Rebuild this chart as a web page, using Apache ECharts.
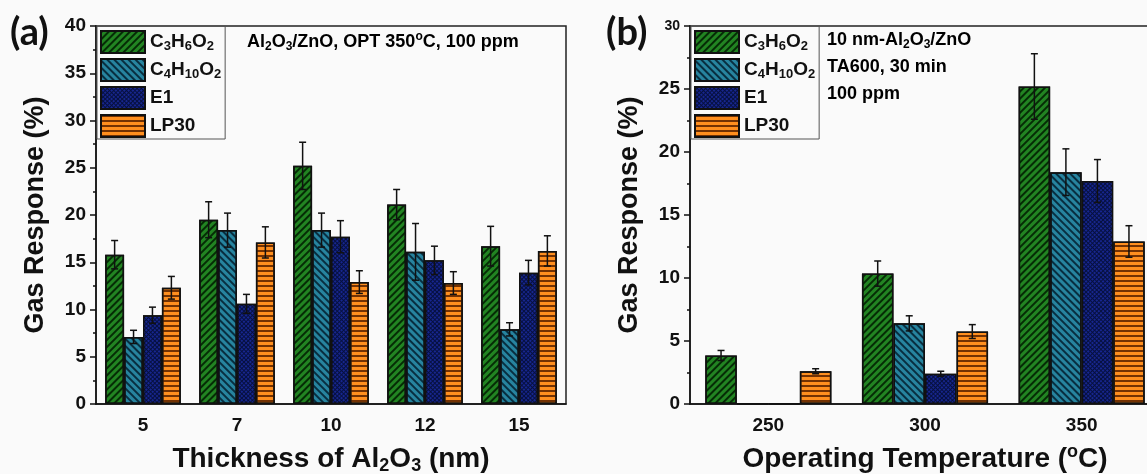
<!DOCTYPE html>
<html>
<head>
<meta charset="utf-8">
<title>Gas response</title>
<script src="https://cdn.jsdelivr.net/npm/echarts@6/dist/echarts.min.js"></script>
<style>
  html, body { margin: 0; padding: 0; background: #fafafa; }
  #chart { width: 1147px; height: 474px; }
</style>
</head>
<body>
<div id="chart"></div>
<script>
// gases, same order in both panels
const gases = ['C3H6O2', 'C4H10O2', 'E1', 'LP30'];

// panel (a): thickness of Al2O3 (nm)
const thickness = ['5', '7', '10', '12', '15'];
const thkC3H6O2 = [15.8, 19.5, 25.2, 21.1, 16.7];
const thkC4H10O2 = [7.1, 18.4, 18.4, 16.1, 7.9];
const thkE1 = [9.4, 10.6, 17.7, 15.2, 13.9];
const thkLP30 = [12.3, 17.1, 12.9, 12.8, 16.2];
const thkC3H6O2Err = [1.5, 1.9, 2.5, 1.6, 2.1];
const thkC4H10O2Err = [0.7, 1.8, 1.8, 3.0, 0.7];
const thkE1Err = [0.85, 1.0, 1.7, 1.5, 1.3];
const thkLP30Err = [1.2, 1.65, 1.2, 1.2, 1.6];

// panel (b): operating temperature (oC)
const temps = ['250', '300', '350'];
const tmpC3H6O2 = [3.85, 10.35, 25.2];
const tmpC4H10O2 = [0.05, 6.4, 18.4];
const tmpE1 = [0.05, 2.4, 17.7];
const tmpLP30 = [2.6, 5.75, 12.9];
const tmpC3H6O2Err = [0.4, 1.0, 2.6];
const tmpC4H10O2Err = [0, 0.6, 1.85];
const tmpE1Err = [0, 0.2, 1.7];
const tmpLP30Err = [0.2, 0.55, 1.25];

// y axis ticks
const yTicksA = [0, 5, 10, 15, 20, 25, 30, 35, 40];
const yTicksB = [0, 5, 10, 15, 20, 25, 30];

const chart = echarts.init(document.getElementById('chart'));

const FONT = '"Liberation Sans", Arial, sans-serif';
const GAP = 0.195;

const colors = ['#228422', '#27849f', '#06103f', '#ff8f1f'];
const decals = [
  {symbol: 'rect', symbolSize: 1, dashArrayX: [1, 0], dashArrayY: [1.5, 2.5], rotation: -Math.PI / 4, color: 'rgba(0,28,0,0.85)'},
  {symbol: 'rect', symbolSize: 1, dashArrayX: [1, 0], dashArrayY: [1.5, 2.5], rotation: Math.PI / 4, color: 'rgba(0,25,40,0.8)'},
  {symbol: 'rect', symbolSize: 1, dashArrayX: [2, 1], dashArrayY: [2, 1], rotation: Math.PI / 4, color: '#17268f'},
  {symbol: 'rect', symbolSize: 1, dashArrayX: [1, 0], dashArrayY: [1.8, 2.6], rotation: 0, color: 'rgba(100,40,0,0.9)'}
];

// chemical formula -> rich text with subscripts
function formula(name) {
  if (name === 'E1' || name === 'LP30') return '{t|' + name + '}';
  return name.replace(/([A-Za-z]+)(\d*)/g, (m, a, d) => '{t|' + a + '}' + (d ? '{s|' + d + '}' : ''));
}

function rich(size, sub, lh) {
  return {
    t: {fontSize: size, fontWeight: 'bold', fontFamily: FONT, color: '#111', lineHeight: lh || size + 4},
    s: {fontSize: sub, fontWeight: 'bold', fontFamily: FONT, color: '#111', lineHeight: sub, verticalAlign: 'bottom'},
    p: {fontSize: sub, fontWeight: 'bold', fontFamily: FONT, color: '#111', lineHeight: sub, verticalAlign: 'top'},
    sm: {fontSize: 14, fontWeight: 'bold', fontFamily: FONT, color: '#111'}
  };
}

const axisColor = '#111';
const lineSt = {color: axisColor, width: 1.5};

function xAxes(grid, cats, nameRich) {
  return [{
    gridIndex: grid, type: 'category', data: cats, position: 'bottom',
    axisLine: {lineStyle: lineSt},
    axisTick: {alignWithLabel: true, length: 6, lineStyle: lineSt},
    axisLabel: {fontSize: 19, fontWeight: 'bold', fontFamily: FONT, color: axisColor, margin: 12},
    name: nameRich, nameLocation: 'middle', nameGap: 39,
    nameTextStyle: {rich: rich(28, 18)}
  }, {
    gridIndex: grid, type: 'category', data: cats, position: 'bottom',
    axisLine: {show: false},
    axisTick: {length: 3, lineStyle: lineSt},
    axisLabel: {show: false}
  }];
}

function yAxis(grid, ticks) {
  return {
    gridIndex: grid, type: 'value', min: ticks[0], max: ticks[ticks.length - 1], interval: ticks[1] - ticks[0],
    axisLine: {show: true, lineStyle: lineSt},
    axisTick: {show: true, length: 6, lineStyle: lineSt},
    minorTick: {show: true, splitNumber: 2, length: 3, lineStyle: lineSt},
    splitLine: {show: false},
    axisLabel: {
      fontSize: 19, fontWeight: 'bold', fontFamily: FONT, color: axisColor, margin: 10,
      formatter: v => (grid === 1 && v === 30) ? '{sm|30}' : String(v),
      rich: rich(19, 12)
    },
    name: 'Gas Response (%)', nameLocation: 'middle', nameGap: 47,
    nameTextStyle: {fontSize: 27, fontWeight: 'bold', fontFamily: FONT, color: axisColor}
  };
}

function errRender(params, api) {
  const cat = api.value(0), v = api.value(1), e = api.value(2), k = api.value(3);
  if (!e) return;
  const band = api.size([1, 0])[0];
  const groupW = band * (1 - GAP);
  const bw = groupW / gases.length;
  const x = api.coord([cat, v])[0] - groupW / 2 + bw * (k + 0.5);
  const yTop = api.coord([cat, v + e])[1];
  const yBot = api.coord([cat, v - e])[1];
  const cap = 3.5;
  const style = {stroke: '#111', lineWidth: 1.5};
  return {type: 'group', children: [
    {type: 'line', shape: {x1: x, y1: yTop, x2: x, y2: yBot}, style: style},
    {type: 'line', shape: {x1: x - cap, y1: yTop, x2: x + cap, y2: yTop}, style: style},
    {type: 'line', shape: {x1: x - cap, y1: yBot, x2: x + cap, y2: yBot}, style: style}
  ]};
}

function panelSeries(xIdx, yIdx, values, errors) {
  const out = [];
  const errData = [];
  gases.forEach((g, k) => {
    out.push({
      type: 'bar', name: g, xAxisIndex: xIdx, yAxisIndex: yIdx,
      data: values[k], barGap: '0%', barCategoryGap: (GAP * 100) + '%',
      itemStyle: {color: colors[k], borderColor: '#111', borderWidth: 1.5, decal: decals[k]},
      emphasis: {disabled: true}
    });
    values[k].forEach((v, i) => errData.push([i, v, errors[k][i], k]));
  });
  out.push({
    type: 'custom', xAxisIndex: xIdx, yAxisIndex: yIdx, renderItem: errRender,
    data: errData, encode: {x: 0, y: 1}, z: 5, silent: true
  });
  return out;
}

function legend(left) {
  return {
    left: left, top: 26, orient: 'vertical', icon: 'rect',
    itemWidth: 44, itemHeight: 22, itemGap: 4,
    padding: [4, 4, 1, 3],
    borderColor: '#555', borderWidth: 1, borderRadius: 0,
    data: gases,
    formatter: formula,
    textStyle: {rich: rich(19, 13, 22)}
  };
}

const gridBase = {
  top: 26, width: 470, height: 378, show: true,
  borderColor: '#222', borderWidth: 1.5, backgroundColor: 'transparent',
  outerBoundsMode: 'none', containLabel: false
};

const option = {
  backgroundColor: '#fafafa',
  animation: false,
  grid: [
    Object.assign({left: 96}, gridBase),
    Object.assign({left: 690}, gridBase)
  ],
  legend: [legend(97), legend(691)],
  xAxis: [].concat(
    xAxes(0, thickness, '{t|Thickness of Al}{s|2}{t|O}{s|3}{t| (nm)}'),
    xAxes(1, temps, '{t|Operating Temperature (}{p|o}{t|C)}')
  ),
  yAxis: [yAxis(0, yTicksA), yAxis(1, yTicksB)],
  series: [].concat(
    panelSeries(0, 0, [thkC3H6O2, thkC4H10O2, thkE1, thkLP30], [thkC3H6O2Err, thkC4H10O2Err, thkE1Err, thkLP30Err]),
    panelSeries(2, 1, [tmpC3H6O2, tmpC4H10O2, tmpE1, tmpLP30], [tmpC3H6O2Err, tmpC4H10O2Err, tmpE1Err, tmpLP30Err])
  ),
  graphic: [
    {type: 'text', left: 10, top: 14, style: {text: '(a)', font: 'bold 38px Lato, "Liberation Sans", sans-serif', fill: '#111'}},
    {type: 'text', left: 606, top: 14, style: {text: '(b)', font: 'bold 38px Lato, "Liberation Sans", sans-serif', fill: '#111'}},
    {type: 'text', left: 247, top: 31, style: {
      text: '{t|Al}{s|2}{t|O}{s|3}{t|/ZnO, OPT 350}{p|o}{t|C, 100 ppm}', rich: rich(18, 12)}},
    {type: 'text', left: 827, top: 31, style: {
      text: '{t|10 nm-Al}{s|2}{t|O}{s|3}{t|/ZnO}', rich: rich(18, 12)}},
    {type: 'text', left: 827, top: 58, style: {text: '{t|TA600, 30 min}', rich: rich(18, 12)}},
    {type: 'text', left: 827, top: 85, style: {text: '{t|100 ppm}', rich: rich(18, 12)}}
  ]
};

chart.setOption(option);

window.onresize = function () {
  chart.resize();
};
</script>
</body>
</html>
